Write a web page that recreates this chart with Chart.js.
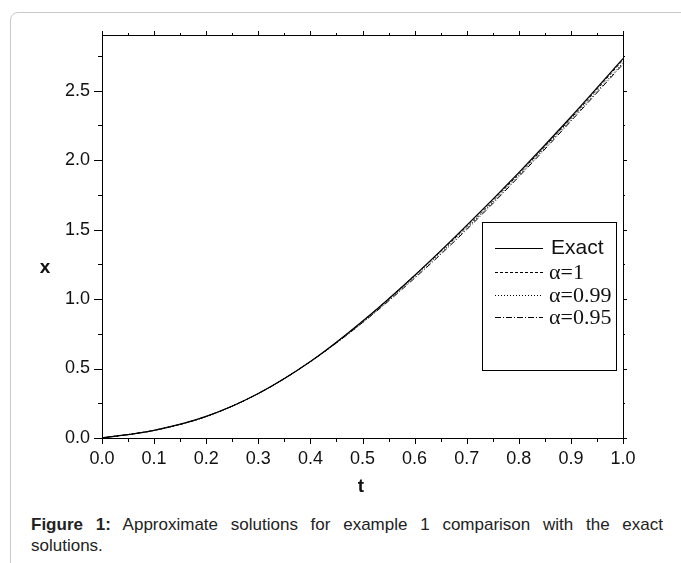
<!DOCTYPE html>
<html>
<head>
<meta charset="utf-8">
<script src="https://cdn.jsdelivr.net/npm/chart.js@4.4.1/dist/chart.umd.min.js"></script>
<style>
  body { margin: 0; background: #fff; }
  #page { position: relative; width: 681px; height: 563px; overflow: hidden; }
  #card { position: absolute; left: 10px; top: 12px; width: 720px; height: 620px;
          border: 1px solid #c8c8c8; border-radius: 8px; }
  #chart { position: absolute; left: 0; top: 0; }
  #caption { position: absolute; left: 31px; top: 514px; width: 632px;
             font-family: "Liberation Sans", Arial, sans-serif; font-size: 17px;
             line-height: 21px; color: #222; }
  .l1 { text-align: justify; text-align-last: justify; }
</style>
</head>
<body>
<div id="page">
  <div id="card"></div>
  <canvas id="chart" width="681" height="500"></canvas>
  <div id="caption">
    <div class="l1"><b>Figure 1:</b> Approximate solutions for example 1 comparison with the exact</div>
    <div>solutions.</div>
  </div>
</div>
<script>
// values
const tValues = [0, 0.1, 0.2, 0.3, 0.4, 0.5, 0.6, 0.7, 0.8, 0.9, 1.0];
const exact   = [0, 0.055, 0.155, 0.32, 0.55, 0.84, 1.17, 1.53, 1.91, 2.31, 2.73];
const alpha1  = [0, 0.055, 0.155, 0.32, 0.55, 0.84, 1.17, 1.52, 1.90, 2.30, 2.72];
const alpha99 = [0, 0.055, 0.155, 0.32, 0.55, 0.83, 1.16, 1.51, 1.89, 2.29, 2.70];
const alpha95 = [0, 0.055, 0.155, 0.32, 0.55, 0.83, 1.15, 1.50, 1.88, 2.28, 2.69];
const seriesLabels = ['Exact', 'α=1', 'α=0.99', 'α=0.95'];
const xTicksMajor = 0.1;
const yTicksMajor = 0.5;

const sansFont = '"Liberation Sans", Arial, sans-serif';
const serifFont = '"Liberation Serif", "Times New Roman", serif';
Chart.defaults.font.family = sansFont;
Chart.defaults.color = '#111';

function isMajor(value, step) {
    const r = value / step;
    return Math.abs(r - Math.round(r)) < 1e-6;
}

function toPoints(values) {
    return tValues.map((t, i) => ({x: t, y: values[i]}));
}

// frame, inner/outer tick marks, axis titles
const frameTicks = {
    id: 'frameTicks',
    afterDraw(chart) {
        const {ctx, chartArea: a, scales} = chart;
        ctx.save();
        ctx.strokeStyle = '#000';
        ctx.lineWidth = 1;
        ctx.strokeRect(Math.round(a.left) + 0.5, Math.round(a.top) + 0.5,
                       Math.round(a.right - a.left), Math.round(a.bottom - a.top));
        ctx.beginPath();
        scales.y.ticks.forEach(t => {
            const py = Math.round(scales.y.getPixelForValue(t.value)) + 0.5;
            const major = isMajor(t.value, yTicksMajor);
            ctx.moveTo(a.left - (major ? 8 : 4), py);
            ctx.lineTo(a.left, py);
            ctx.moveTo(a.right, py);
            ctx.lineTo(a.right + (major ? 4 : 2), py);
        });
        scales.x.ticks.forEach(t => {
            const px = Math.round(scales.x.getPixelForValue(t.value)) + 0.5;
            const major = isMajor(t.value, xTicksMajor);
            ctx.moveTo(px, a.bottom);
            ctx.lineTo(px, a.bottom + (major ? 6 : 4));
            ctx.moveTo(px, a.top);
            ctx.lineTo(px, a.top - (major ? 4 : 2));
        });
        ctx.stroke();

        ctx.fillStyle = '#111';
        ctx.font = 'bold 19px ' + sansFont;
        ctx.textAlign = 'center';
        ctx.textBaseline = 'middle';
        ctx.fillText('x', 45, 268);
        ctx.fillText('t', 361, 487);
        ctx.restore();
    }
};

// boxed legend inside the plot, like the original
const boxLegend = {
    id: 'boxLegend',
    afterDraw(chart) {
        const {ctx} = chart;
        const box = {left: 482, top: 222, right: 616, bottom: 370};
        ctx.save();
        ctx.fillStyle = '#fff';
        ctx.fillRect(box.left, box.top, box.right - box.left, box.bottom - box.top);
        ctx.strokeStyle = '#000';
        ctx.lineWidth = 1;
        ctx.strokeRect(box.left + 0.5, box.top + 0.5, box.right - box.left, box.bottom - box.top);
        const rows = [248, 272, 295, 317];
        chart.data.datasets.forEach((ds, i) => {
            const y = rows[i] + 0.5;
            ctx.beginPath();
            ctx.setLineDash(ds.borderDash || []);
            ctx.lineWidth = 1;
            ctx.moveTo(495, y);
            ctx.lineTo(543, y);
            ctx.stroke();
            ctx.setLineDash([]);
            ctx.fillStyle = '#111';
            ctx.textBaseline = 'middle';
            ctx.textAlign = 'left';
            if (ds.label.startsWith('α')) {
                ctx.font = '22px ' + serifFont;
                ctx.fillText(ds.label, 549, rows[i] + 1);
            } else {
                ctx.font = '21px ' + sansFont;
                ctx.fillText(ds.label, 551, rows[i]);
            }
        });
        ctx.restore();
    }
};

new Chart(document.getElementById('chart'), {
    type: 'line',
    data: {
        datasets: [{
            label: seriesLabels[0],
            data: toPoints(exact),
            borderColor: '#000',
            borderWidth: 1.3,
            borderDash: []
        }, {
            label: seriesLabels[1],
            data: toPoints(alpha1),
            borderColor: '#000',
            borderWidth: 1,
            borderDash: [3, 2]
        }, {
            label: seriesLabels[2],
            data: toPoints(alpha99),
            borderColor: '#000',
            borderWidth: 1,
            borderDash: [1, 2]
        }, {
            label: seriesLabels[3],
            data: toPoints(alpha95),
            borderColor: '#000',
            borderWidth: 1,
            borderDash: [6, 2, 1, 2]
        }]
    },
    options: {
        responsive: false,
        animation: false,
        devicePixelRatio: 1,
        cubicInterpolationMode: 'monotone',
        elements: { point: { radius: 0 } },
        layout: { padding: { top: 35, right: 58, left: 0, bottom: 0 } },
        plugins: { legend: { display: false }, tooltip: { enabled: false } },
        scales: {
            x: {
                type: 'linear',
                min: 0,
                max: 1,
                grid: { display: false, drawTicks: false },
                border: { display: false },
                afterFit: scale => { scale.height = 62; },
                ticks: {
                    stepSize: 0.05,
                    autoSkip: false,
                    maxRotation: 0,
                    padding: 10,
                    font: { size: 18 },
                    callback: value => isMajor(value, xTicksMajor) ? value.toFixed(1) : ''
                }
            },
            y: {
                min: 0,
                max: 2.9,
                grid: { display: false, drawTicks: false },
                border: { display: false },
                afterFit: scale => { scale.width = 102; },
                ticks: {
                    stepSize: 0.25,
                    includeBounds: false,
                    autoSkip: false,
                    padding: 12,
                    font: { size: 18 },
                    callback: value => isMajor(value, yTicksMajor) ? value.toFixed(1) : ''
                }
            }
        }
    },
    plugins: [frameTicks, boxLegend]
});
</script>
</body>
</html>
